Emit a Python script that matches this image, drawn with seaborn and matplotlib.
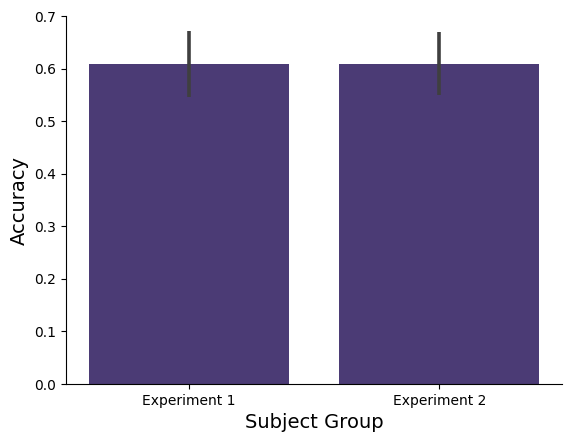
import numpy as np
import matplotlib
matplotlib.use('Agg')
import matplotlib.pyplot as plt
import seaborn as sns
import pandas as pd

# values
groups = ['Experiment 1', 'Experiment 2']
acc_mean = [0.608, 0.608]
ci_low = [0.546, 0.549]
ci_high = [0.671, 0.669]

df = pd.DataFrame({'Subject Group': groups, 'Accuracy': acc_mean})

fig = plt.figure(figsize=(5.72, 4.42), dpi=100)
ax = fig.add_axes([0.1154, 0.1312, 0.8671, 0.8326])

col = sns.color_palette('viridis')[0]
sns.barplot(x='Subject Group', y='Accuracy', data=df, color=col, errorbar=None, ax=ax)

# error bars
for i in range(len(groups)):
    ax.plot([i, i], [ci_low[i], ci_high[i]], color='#3f3f3f', lw=2.6, solid_capstyle='butt')

ax.set_ylim(0, 0.7)
ax.set_xlabel('Subject Group', fontsize=14)
ax.set_ylabel('Accuracy', fontsize=14)
sns.despine(ax=ax)

plt.savefig('out.png', dpi=100)
